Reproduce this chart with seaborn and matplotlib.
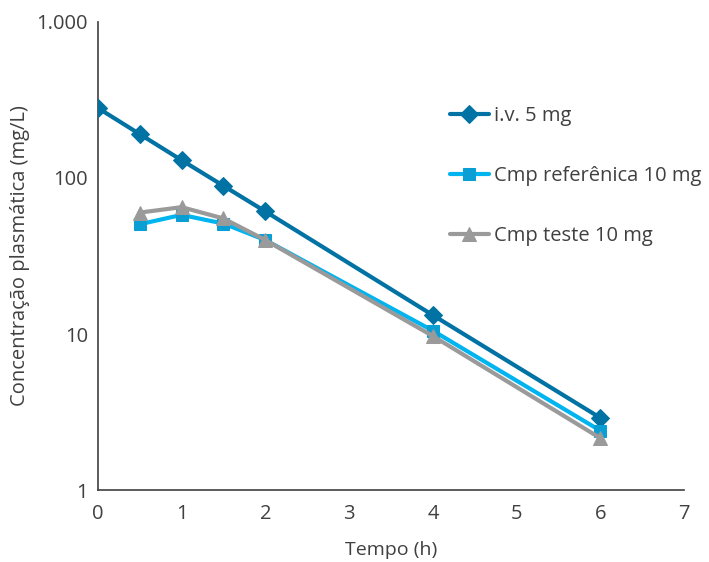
import matplotlib
matplotlib.use("Agg")
import matplotlib.pyplot as plt
import matplotlib.ticker as mticker
import seaborn as sns
import pandas as pd

# valores
tempo_iv = [0, 0.5, 1, 1.5, 2, 4, 6]
conc_iv = [281, 191, 130, 89, 61, 13.2, 2.9]

tempo_oral = [0.5, 1, 1.5, 2, 4, 6]
conc_ref = [50.5, 58, 51, 40, 10.5, 2.4]
conc_teste = [60, 65, 55, 40, 9.7, 2.15]

nomes = ["i.v. 5 mg", "Cmp referênica 10 mg", "Cmp teste 10 mg"]
yticks = [1, 10, 100, 1000]
ytick_labels = ["1", "10", "100", "1.000"]
xticks = [0, 1, 2, 3, 4, 5, 6, 7]

df = pd.concat([
    pd.DataFrame({"t": tempo_iv, "c": conc_iv, "serie": nomes[0]}),
    pd.DataFrame({"t": tempo_oral, "c": conc_ref, "serie": nomes[1]}),
    pd.DataFrame({"t": tempo_oral, "c": conc_teste, "serie": nomes[2]}),
])

sns.set_theme(style="white")
plt.rcParams["font.family"] = ["Open Sans", "DejaVu Sans"]
texto = "#404040"

fig = plt.figure(figsize=(7.09, 5.62), dpi=100)
ax = fig.add_axes([0.138, 0.128, 0.827, 0.833])

cores = {nomes[0]: "#0072A3", nomes[1]: "#00B4F0", nomes[2]: "#9A9A9A"}
marcadores = {nomes[0]: "D", nomes[1]: "s", nomes[2]: "^"}
cores_marc = {nomes[0]: "#0072A3", nomes[1]: "#0A9FD4", nomes[2]: "#9A9A9A"}
tam = {nomes[0]: 9, nomes[1]: 9, nomes[2]: 10}

for nome in nomes:
    sub = df[df["serie"] == nome]
    sns.lineplot(data=sub, x="t", y="c", ax=ax, color=cores[nome], lw=3,
                 marker=marcadores[nome], markersize=tam[nome],
                 markerfacecolor=cores_marc[nome], markeredgecolor=cores_marc[nome],
                 label=nome, zorder=3)

ax.set_yscale("log")
ax.set_ylim(1, 1000)
ax.set_xlim(0, 7)
ax.yaxis.set_major_locator(mticker.FixedLocator(yticks))
ax.yaxis.set_major_formatter(mticker.FixedFormatter(ytick_labels))
ax.yaxis.set_minor_locator(mticker.NullLocator())
ax.set_xticks(xticks)

for s in ["top", "right"]:
    ax.spines[s].set_visible(False)
for s in ["left", "bottom"]:
    ax.spines[s].set_color("#404040")
    ax.spines[s].set_linewidth(1.2)

ax.tick_params(axis="y", length=0, labelsize=14.5, colors=texto, pad=7)
ax.tick_params(axis="x", length=0, labelsize=14.5, colors=texto, pad=10)
ax.set_xlabel("Tempo (h)", fontsize=14, color=texto, labelpad=12)
ax.set_ylabel("Concentração plasmática (mg/L)", fontsize=14.5, color=texto, labelpad=5)

leg = ax.legend(loc="center left", bbox_to_anchor=(0.60, 0.671), frameon=False,
                fontsize=14.5, labelspacing=2.0, handlelength=1.95, handletextpad=0.25,
                borderaxespad=0, borderpad=0)
for t in leg.get_texts():
    t.set_color(texto)

fig.savefig("out.png", dpi=100)
